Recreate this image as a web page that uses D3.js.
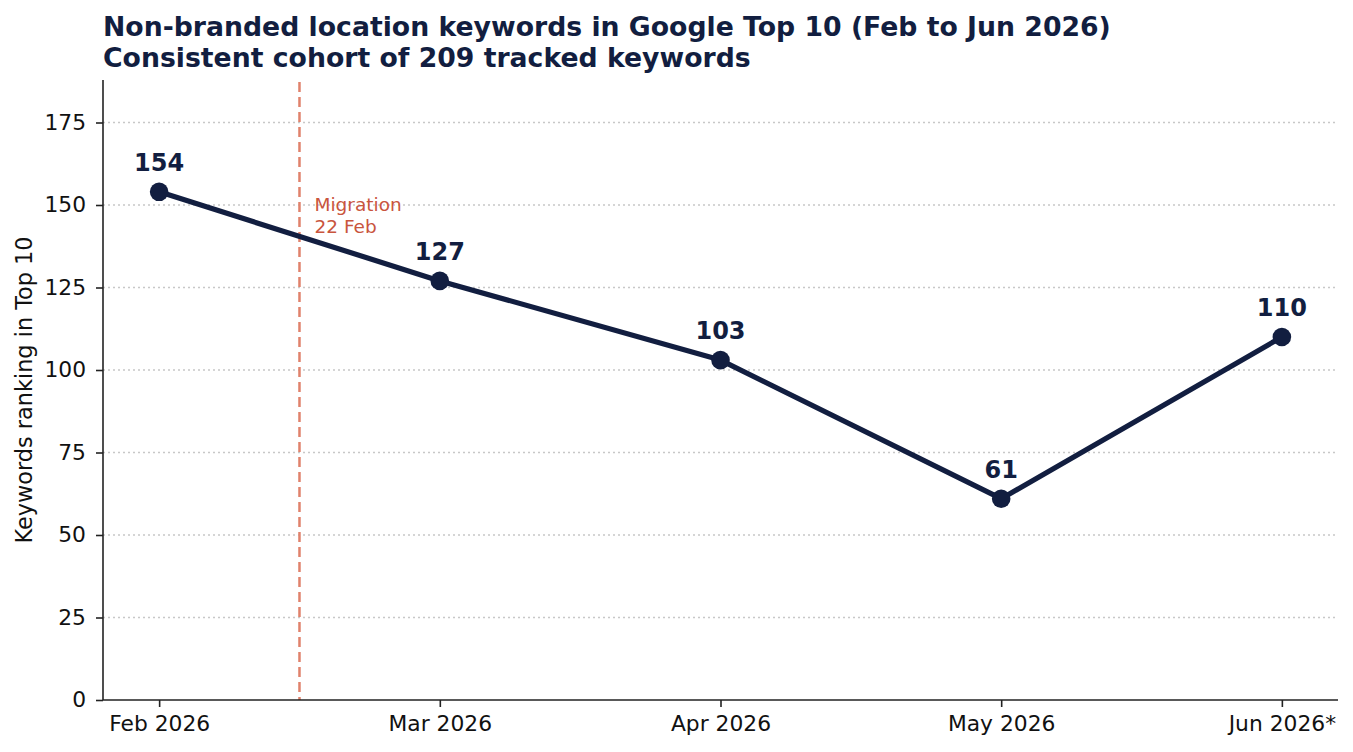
<!DOCTYPE html>
<html>
<head>
<meta charset="utf-8">
<script src="https://cdn.jsdelivr.net/npm/d3@7"></script>
<style>
  body { margin: 0; background: #fff; }
  svg { display: block; font-family: "DejaVu Sans", sans-serif; }
</style>
</head>
<body>
<svg id="chart" width="1353" height="752"></svg>
<script>
// data
const months = ["Feb 2026", "Mar 2026", "Apr 2026", "May 2026", "Jun 2026*"];
const keywords = [154, 127, 103, 61, 110];
const yTicks = [0, 25, 50, 75, 100, 125, 150, 175];
const migrationPos = 0.5;   // between Feb and Mar
const migrationLabel = ["Migration", "22 Feb"];
const titleLines = [
  "Non-branded location keywords in Google Top 10 (Feb to Jun 2026)",
  "Consistent cohort of 209 tracked keywords"
];

const W = 1353, H = 752;
const margin = {top: 80, right: 15, bottom: 52, left: 103};
const navy = "#121e40";

const svg = d3.select("#chart");

const x = d3.scaleLinear()
  .domain([-0.2, months.length - 1 + 0.2])
  .range([margin.left, W - margin.right]);

const y = d3.scaleLinear()
  .domain([0, d3.max(keywords) * 1.22])
  .range([H - margin.bottom, margin.top]);

// grid
svg.append("g")
  .selectAll("line")
  .data(yTicks.filter(d => d > 0))
  .join("line")
  .attr("x1", x.range()[0])
  .attr("x2", x.range()[1])
  .attr("y1", d => y(d))
  .attr("y2", d => y(d))
  .attr("stroke", "#c8c8c8")
  .attr("stroke-width", 1.3)
  .attr("stroke-dasharray", "2,3");

// migration line
svg.append("line")
  .attr("x1", x(migrationPos))
  .attr("x2", x(migrationPos))
  .attr("y1", y.range()[1] + 2)
  .attr("y2", y.range()[0])
  .attr("stroke", "#e0826c")
  .attr("stroke-width", 2.5)
  .attr("stroke-dasharray", "10,5");

svg.append("text")
  .attr("x", x(migrationPos) + 15)
  .attr("y", 211)
  .attr("fill", "#c9553d")
  .style("font-size", "18.5px")
  .selectAll("tspan")
  .data(migrationLabel)
  .join("tspan")
  .attr("x", x(migrationPos) + 15)
  .attr("dy", (d, i) => i === 0 ? 0 : 21.5)
  .text(d => d);

// axes
const xAxis = svg.append("g")
  .attr("transform", `translate(0,${H - margin.bottom})`)
  .call(d3.axisBottom(x)
    .tickValues(months.map((d, i) => i))
    .tickFormat(i => months[i])
    .tickSize(7)
    .tickPadding(9));

const yAxis = svg.append("g")
  .attr("transform", `translate(${margin.left},0)`)
  .call(d3.axisLeft(y)
    .tickValues(yTicks)
    .tickSize(7)
    .tickPadding(10));

[xAxis, yAxis].forEach(g => {
  g.select(".domain").attr("stroke", "#222").attr("stroke-width", 1.6);
  g.selectAll(".tick line").attr("stroke", "#222").attr("stroke-width", 1.6);
  g.selectAll(".tick text")
    .attr("fill", "#111")
    .style("font-size", "21.8px")
    .style("font-family", "DejaVu Sans, sans-serif");
});
// spines without outer end ticks
xAxis.select(".domain").attr("d", `M${x.range()[0]},0H${x.range()[1]}`);
yAxis.select(".domain").attr("d", `M0,${y.range()[0]}V${y.range()[1]}`);

// y label
svg.append("text")
  .attr("transform", `translate(32,${(y.range()[0] + y.range()[1]) / 2}) rotate(-90)`)
  .attr("text-anchor", "middle")
  .attr("fill", "#111")
  .style("font-size", "22.4px")
  .text("Keywords ranking in Top 10");

// line
const line = d3.line()
  .x((d, i) => x(i))
  .y(d => y(d));

svg.append("path")
  .datum(keywords)
  .attr("d", line)
  .attr("fill", "none")
  .attr("stroke", navy)
  .attr("stroke-width", 5.2)
  .attr("stroke-linejoin", "round");

svg.append("g")
  .selectAll("circle")
  .data(keywords)
  .join("circle")
  .attr("cx", (d, i) => x(i))
  .attr("cy", d => y(d))
  .attr("r", 9.3)
  .attr("fill", navy);

svg.append("g")
  .selectAll("text")
  .data(keywords)
  .join("text")
  .attr("x", (d, i) => x(i))
  .attr("y", d => y(d) - 21)
  .attr("text-anchor", "middle")
  .attr("fill", navy)
  .style("font-size", "24px")
  .style("font-weight", "bold")
  .text(d => d);

// title
svg.append("text")
  .attr("fill", navy)
  .style("font-size", "26.7px")
  .style("font-weight", "bold")
  .selectAll("tspan")
  .data(titleLines)
  .join("tspan")
  .attr("x", margin.left)
  .attr("y", (d, i) => 36 + i * 30.5)
  .text(d => d);
</script>
</body>
</html>
